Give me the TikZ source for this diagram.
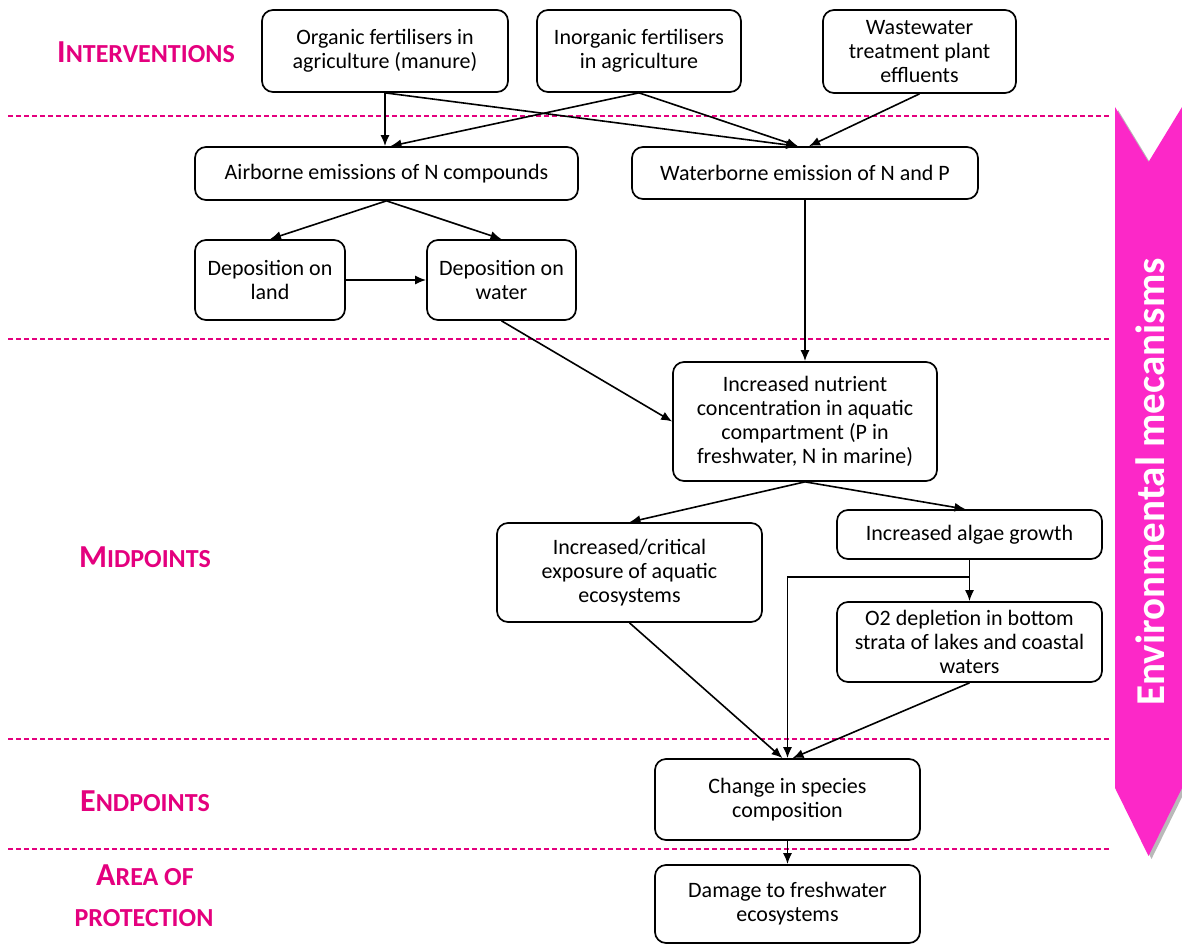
\documentclass[tikz,border=0pt]{standalone}
\usepackage{fontspec}
\setmainfont{Carlito}
\usetikzlibrary{arrows.meta}
\definecolor{lvlpink}{RGB}{228,0,126}
\definecolor{bandpink}{RGB}{252,40,200}
\tikzset{
  impact/.style={draw,rounded corners=11pt,line width=1.7pt,align=center,
    font=\fontsize{22}{24}\selectfont,inner sep=2pt},
  flow/.style={-{Latex[length=11pt,width=9pt]},line width=1.6pt},
  lvllabel/.style={text=lvlpink,font=\bfseries},
  levelsep/.style={draw=lvlpink,line width=1.4pt,dash pattern=on 5pt off 3pt}
}
\newcommand\lvlname[2]{{\fontsize{32}{32}\selectfont #1}{\fontsize{26}{26}\selectfont #2}}

\begin{document}
\begin{tikzpicture}[x=1pt,y=-1pt]
\useasboundingbox (0,0) rectangle (1182,944);

% band on the right
\fill[gray!55,xshift=3pt,yshift=-3pt] (1115,107) -- (1148.5,162) -- (1182,107) -- (1182,788) -- (1148.5,856) -- (1115,788) -- cycle;
\fill[bandpink] (1115,107) -- (1148.5,162) -- (1182,107) -- (1182,788) -- (1148.5,856) -- (1115,788) -- cycle;
\node[rotate=90,text=white,font=\bfseries\fontsize{41}{41}\selectfont] (envmech) at (1150,482) {Environmental mecanisms};

% level separators
\foreach \y in {116,339,739,849}
  \draw[levelsep] (8,\y) -- (1111,\y);

\node[lvllabel] (interv) at (146,52) {\lvlname{I}{NTERVENTIONS}};
\node[lvllabel] (midp) at (145,557) {\lvlname{M}{IDPOINTS}};
\node[lvllabel] (endp) at (145,801) {\lvlname{E}{NDPOINTS}};
\node[lvllabel] (areaof) at (145,875) {\lvlname{A}{REA OF}};
\node[lvllabel] (protect) at (144,918) {\lvlname{}{PROTECTION}};

% interventions
\node[impact,minimum width=246pt,minimum height=82pt] (org) at (385,51) {Organic fertilisers in\\agriculture (manure)};
\node[impact,minimum width=204pt,minimum height=82pt] (inorg) at (639,51) {Inorganic fertilisers\\in agriculture};
\node[impact,minimum width=193pt,minimum height=83pt] (waste) at (919.5,51.5) {Wastewater\\treatment plant\\effluents};

% environmental mechanisms
\node[impact,minimum width=383pt,minimum height=53pt] (air) at (386.5,173.5) {Airborne emissions of N compounds};
\node[impact,minimum width=346pt,minimum height=52pt] (water) at (805,173) {Waterborne emission of N and P};
\node[impact,minimum width=150pt,minimum height=80pt] (land) at (270,280) {Deposition on\\land};
\node[impact,minimum width=149pt,minimum height=80pt] (depw) at (501.5,280) {Deposition on\\water};

% midpoints
\node[impact,minimum width=264pt,minimum height=119pt] (nutr) at (805,421.5) {Increased nutrient\\concentration in aquatic\\compartment (P in\\freshwater, N in marine)};
\node[impact,minimum width=265pt,minimum height=99pt] (expo) at (629.5,572.5) {Increased/critical\\exposure of aquatic\\ecosystems};
\node[impact,minimum width=265pt,minimum height=49pt] (algae) at (969.5,534.5) {Increased algae growth};
\node[impact,minimum width=265pt,minimum height=80pt] (o2) at (969.5,642) {O2 depletion in bottom\\strata of lakes and coastal\\waters};

% endpoint and area of protection
\node[impact,minimum width=265pt,minimum height=81pt] (chg) at (787.5,799.5) {Change in species\\composition};
\node[impact,minimum width=265pt,minimum height=78pt] (dmg) at (787.5,904) {Damage to freshwater\\ecosystems};

\draw[flow] (org.south) -- (org.south |- air.north);
\draw[flow] (org.south) -- ([xshift=-8pt]water.north);
\draw[flow] (inorg.south) -- ([xshift=4pt]air.north);
\draw[flow] (inorg.south) -- ([xshift=-7pt]water.north);
\draw[flow] (waste.south) -- ([xshift=4pt]water.north);
\draw[flow] (air.south) -- (land.north);
\draw[flow] (air.south) -- (depw.north);
\draw[flow] (land.east) -- (depw.west);
\draw[flow] (depw.south) -- (nutr.west);
\draw[flow] (water.south) -- (nutr.north);
\draw[flow] (nutr.south) -- (expo.north);
\draw[flow] (nutr.south) -- ([xshift=-4pt]algae.north);
\draw[flow] (algae.south) -- (o2.north);
\coordinate (split) at (969.5,577);
\draw[flow] (split) -| (chg.north);
\draw[flow] (expo.south) -- ([xshift=-5pt]chg.north);
\draw[flow] (o2.south) -- ([xshift=5pt]chg.north);
\draw[flow] (chg.south) -- (dmg.north);

\end{tikzpicture}
\end{document}
